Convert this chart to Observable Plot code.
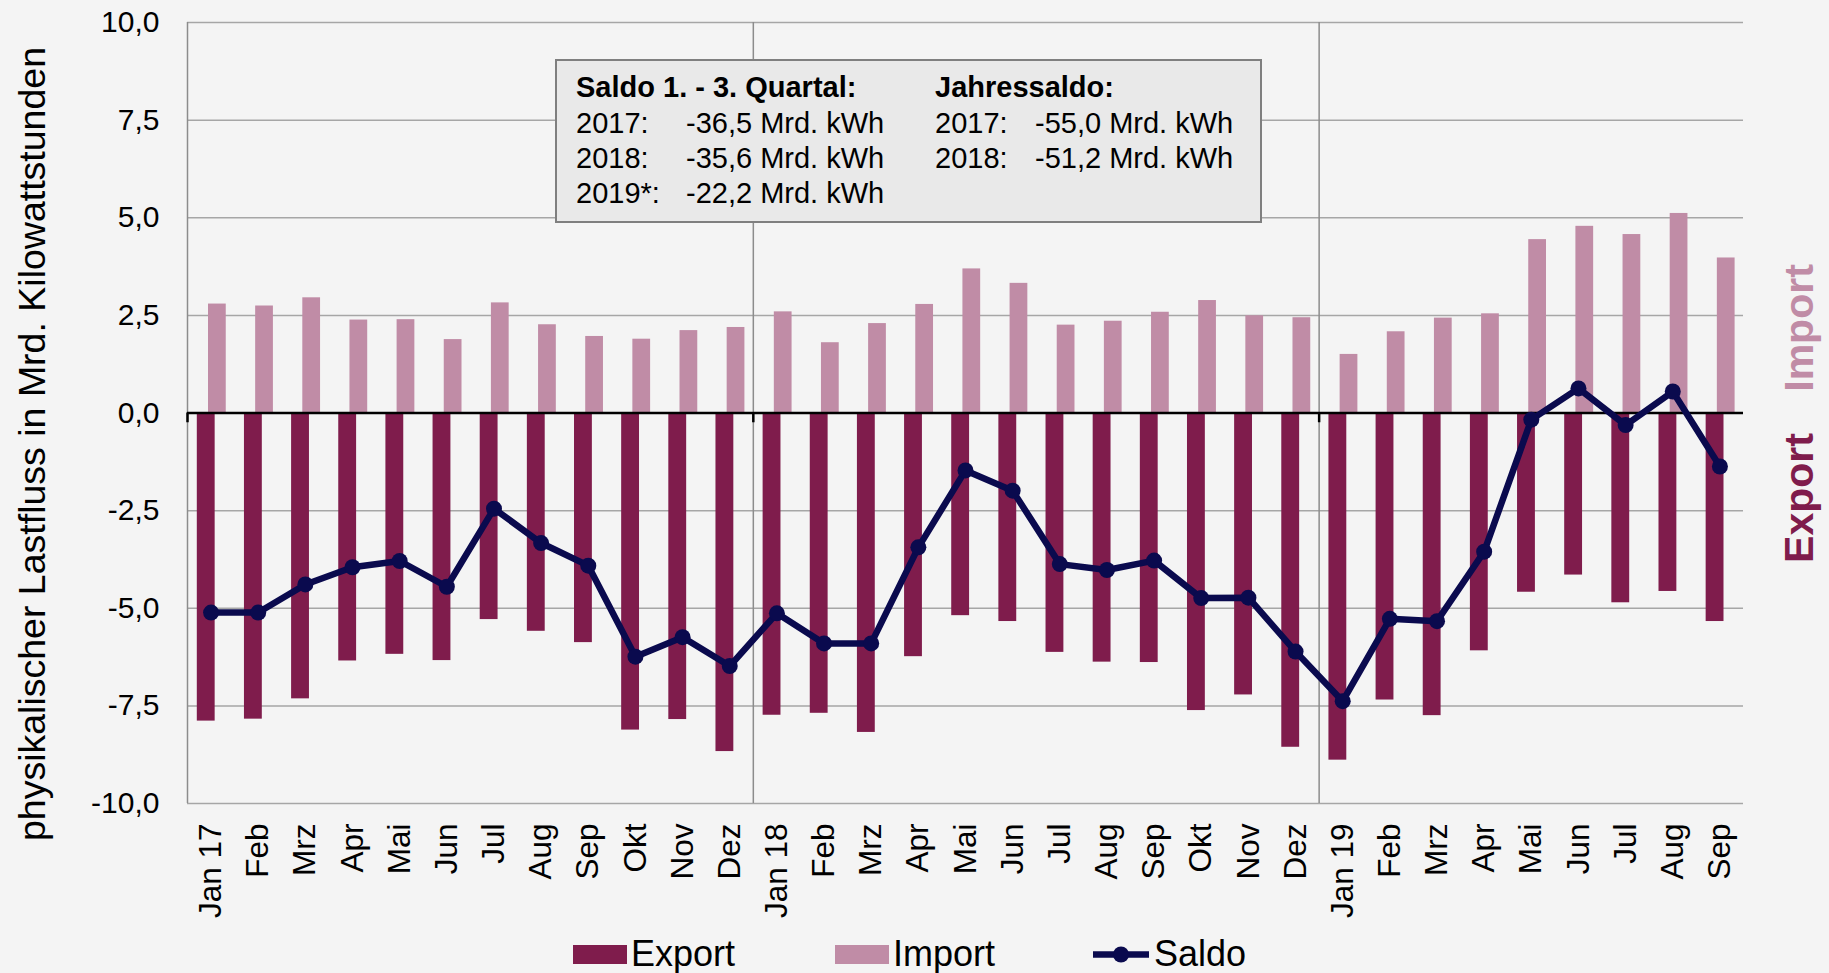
<!DOCTYPE html>
<html>
<head>
<meta charset="utf-8">
<script src="https://cdn.jsdelivr.net/npm/d3@7"></script>
<script src="https://cdn.jsdelivr.net/npm/@observablehq/plot@0.6"></script>
<style>
  html, body { margin: 0; padding: 0; background: #f4f4f4; overflow: hidden; }
  #chart { position: relative; width: 1829px; }
  svg { display: block; }
</style>
</head>
<body>
<div id="chart"></div>
<script>
const months = ["Jan 17","Feb","Mrz","Apr","Mai","Jun","Jul","Aug","Sep","Okt","Nov","Dez",
                "Jan 18","Feb","Mrz","Apr","Mai","Jun","Jul","Aug","Sep","Okt","Nov","Dez",
                "Jan 19","Feb","Mrz","Apr","Mai","Jun","Jul","Aug","Sep"];
const exportValues = [-7.89,-7.84,-7.32,-6.35,-6.18,-6.34,-5.29,-5.59,-5.88,-8.12,-7.85,-8.67,
                      -7.74,-7.69,-8.18,-6.24,-5.19,-5.34,-6.13,-6.38,-6.39,-7.62,-7.22,-8.56,
                      -8.89,-7.35,-7.75,-6.09,-4.59,-4.15,-4.86,-4.57,-5.34];
const importValues = [2.79,2.74,2.95,2.38,2.39,1.88,2.82,2.26,1.96,1.89,2.11,2.19,
                      2.59,1.80,2.29,2.78,3.69,3.32,2.25,2.35,2.58,2.88,2.49,2.44,
                      1.50,2.08,2.43,2.54,4.44,4.78,4.57,5.11,3.97];
const saldoValues = [-5.11,-5.11,-4.39,-3.95,-3.79,-4.45,-2.45,-3.33,-3.91,-6.24,-5.74,-6.48,
                     -5.13,-5.90,-5.90,-3.44,-1.47,-1.99,-3.87,-4.02,-3.78,-4.74,-4.73,-6.11,
                     -7.38,-5.27,-5.33,-3.55,-0.17,0.63,-0.31,0.55,-1.37];
const yTicks = [-10,-7.5,-5,-2.5,0,2.5,5,7.5,10];
const yearStarts = [0, 12, 24];
const yTitle = "physikalischer Lastfluss in Mrd. Kilowattstunden";
const sideLabels = ["Import", "Export"];
const boxLeftHeader = "Saldo 1. - 3. Quartal:";
const boxRightHeader = "Jahressaldo:";
const boxLeftRows = [["2017:", "-36,5 Mrd. kWh"], ["2018:", "-35,6 Mrd. kWh"], ["2019*:", "-22,2 Mrd. kWh"]];
const boxRightRows = [["2017:", "-55,0 Mrd. kWh"], ["2018:", "-51,2 Mrd. kWh"]];
const legendNames = ["Export", "Import", "Saldo"];

const colExport = "#7f1c4c", colImport = "#c08ca6", colSaldo = "#0a0a4e";
const FONT = "'Liberation Sans', Arial, sans-serif";

const table = months.map((m, i) => ({i, label: m, exp: exportValues[i], imp: importValues[i], saldo: saldoValues[i]}));

const plot = Plot.plot({
  width: 1829, height: 925,
  marginLeft: 187, marginRight: 86, marginTop: 22, marginBottom: 122,
  style: {background: "transparent", fontFamily: FONT, color: "#000"},
  x: {type: "linear", domain: [0, months.length], label: null},
  y: {domain: [-10, 10], label: null},
  marks: [
    Plot.ruleY(yTicks.filter(d => d !== 0), {stroke: "#a6a6a6", strokeWidth: 1.5}),
    Plot.ruleX(yearStarts, {stroke: "#8c8c8c", strokeWidth: 1.5}),
    Plot.rect(table, {x1: "i", x2: d => d.i + 1, y1: 0, y2: "exp", fill: colExport, insetLeft: 9.8, insetRight: 19.5}),
    Plot.rect(table, {x1: "i", x2: d => d.i + 1, y1: 0, y2: "imp", fill: colImport, insetLeft: 21, insetRight: 8.4}),
    Plot.ruleY([0], {stroke: "#000", strokeWidth: 2.5}),
    Plot.ruleX(yearStarts, {y1: 0, y2: -0.25, stroke: "#000", strokeWidth: 2.5}),
    Plot.line(table, {x: d => d.i + 0.5, y: "saldo", stroke: colSaldo, strokeWidth: 6.5}),
    Plot.dot(table, {x: d => d.i + 0.5, y: "saldo", fill: colSaldo, r: 8}),
    Plot.axisX(table.map(d => d.i + 0.5), {tickFormat: d => months[Math.floor(d)], tickRotate: -90, tickSize: 0, tickPadding: 20, fontSize: 31.5, label: null}),
    Plot.axisY(yTicks, {tickFormat: d => d.toFixed(1).replace(".", ","), tickSize: 0, tickPadding: 28, fontSize: 30, label: null}),
    Plot.text([yTitle], {frameAnchor: "left", textAnchor: "middle", lineAnchor: "middle", rotate: -90, dx: -155, dy: 31, fontSize: 37.5, fill: "#000"}),
    Plot.text([sideLabels[0]], {frameAnchor: "right", textAnchor: "middle", lineAnchor: "middle", rotate: -90, dx: 56, dy: -85, fontSize: 41, fontWeight: "bold", fill: colImport}),
    Plot.text([sideLabels[1]], {frameAnchor: "right", textAnchor: "middle", lineAnchor: "middle", rotate: -90, dx: 56, dy: 85, fontSize: 41, fontWeight: "bold", fill: colExport})
  ]
});
document.getElementById("chart").appendChild(plot);

// annotation box
const svg = d3.select(plot);
const box = svg.append("g").attr("font-family", FONT).attr("font-size", 29).attr("fill", "#000").attr("text-anchor", "start");
box.append("rect").attr("x", 556).attr("y", 60).attr("width", 705).attr("height", 162)
   .attr("fill", "#e9e9e9").attr("stroke", "#7f7f7f").attr("stroke-width", 2);
const rowY = [97, 133, 168, 203];
box.append("text").attr("x", 576).attr("y", rowY[0]).attr("font-weight", "bold").text(boxLeftHeader);
box.append("text").attr("x", 935).attr("y", rowY[0]).attr("font-weight", "bold").text(boxRightHeader);
boxLeftRows.forEach((r, k) => {
  box.append("text").attr("x", 576).attr("y", rowY[k + 1]).text(r[0]);
  box.append("text").attr("x", 686).attr("y", rowY[k + 1]).text(r[1]);
});
boxRightRows.forEach((r, k) => {
  box.append("text").attr("x", 935).attr("y", rowY[k + 1]).text(r[0]);
  box.append("text").attr("x", 1035).attr("y", rowY[k + 1]).text(r[1]);
});

// legend below
const leg = d3.select("#chart").append("svg").attr("width", 1829).attr("height", 48)
  .attr("font-family", FONT).attr("font-size", 36).attr("text-anchor", "start");
leg.append("rect").attr("x", 573).attr("y", 20).attr("width", 54).attr("height", 19).attr("fill", colExport);
leg.append("text").attr("x", 631).attr("y", 41).text(legendNames[0]);
leg.append("rect").attr("x", 835).attr("y", 20).attr("width", 54).attr("height", 19).attr("fill", colImport);
leg.append("text").attr("x", 893).attr("y", 41).text(legendNames[1]);
leg.append("line").attr("x1", 1093).attr("x2", 1149).attr("y1", 29.5).attr("y2", 29.5).attr("stroke", colSaldo).attr("stroke-width", 6.5);
leg.append("circle").attr("cx", 1121).attr("cy", 29.5).attr("r", 8).attr("fill", colSaldo);
leg.append("text").attr("x", 1154).attr("y", 41).text(legendNames[2]);
</script>
</body>
</html>
